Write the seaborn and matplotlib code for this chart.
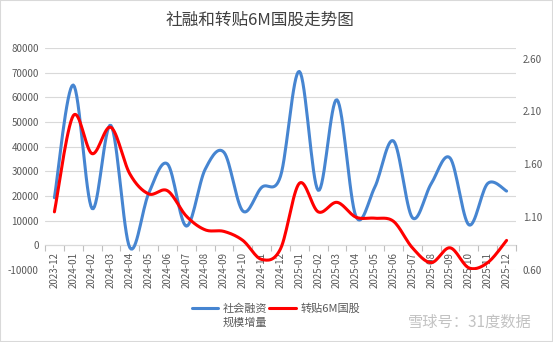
import numpy as np
import pandas as pd
import matplotlib
matplotlib.use("Agg")
import matplotlib.pyplot as plt
from matplotlib.patches import Rectangle
from matplotlib.ticker import FixedLocator, NullFormatter
import seaborn as sns

# ---- data ----
months = ["2023-12", "2024-01", "2024-02", "2024-03", "2024-04", "2024-05", "2024-06",
          "2024-07", "2024-08", "2024-09", "2024-10", "2024-11", "2024-12",
          "2025-01", "2025-02", "2025-03", "2025-04", "2025-05", "2025-06",
          "2025-07", "2025-08", "2025-09", "2025-10", "2025-11", "2025-12"]
tsf = [19300, 65000, 14900, 48600, -900, 21000, 33000, 7800, 30800, 37700, 13900,
       23500, 28000, 70500, 22300, 59000, 11800, 23500, 42300, 11200, 25000, 35400,
       8300, 25100, 22000]
rate = [1.15, 2.06, 1.70, 1.95, 1.51, 1.32, 1.35, 1.11, 0.98, 0.965, 0.88, 0.70,
        0.80, 1.42, 1.15, 1.24, 1.10, 1.09, 1.06, 0.81, 0.67, 0.81, 0.62, 0.67, 0.88]
left_ticks = [-10000, 0, 10000, 20000, 30000, 40000, 50000, 60000, 70000, 80000]
right_ticks = [0.60, 1.10, 1.60, 2.10, 2.60]
series_names = ["社会融资", "转贴6M国股"]
series_name_line2 = "规模增量"
title = "社融和转贴6M国股走势图"


def smooth(vals, n=16):
    """Excel-like Bezier (Catmull-Rom) smoothing of a category series."""
    v = np.asarray(vals, dtype=float)
    x = np.arange(len(v), dtype=float)
    xs, ys = [], []
    for i in range(len(v) - 1):
        i0, i3 = max(i - 1, 0), min(i + 2, len(v) - 1)
        p0x, p1x, p2x, p3x = x[i0], x[i], x[i + 1], x[i3]
        p0y, p1y, p2y, p3y = v[i0], v[i], v[i + 1], v[i3]
        c1x, c1y = p1x + (p2x - p0x) / 6, p1y + (p2y - p0y) / 6
        c2x, c2y = p2x - (p3x - p1x) / 6, p2y - (p3y - p1y) / 6
        t = np.linspace(0, 1, n, endpoint=(i == len(v) - 2))
        b0, b1, b2, b3 = (1 - t) ** 3, 3 * (1 - t) ** 2 * t, 3 * (1 - t) * t ** 2, t ** 3
        xs.append(b0 * p1x + b1 * c1x + b2 * c2x + b3 * p2x)
        ys.append(b0 * p1y + b1 * c1y + b2 * c2y + b3 * p2y)
    return np.concatenate(xs), np.concatenate(ys)


sns.set_theme(style="white")
plt.rcParams["font.family"] = ["Noto Sans CJK SC", "DejaVu Sans"]

W, H = 553, 342
fig = plt.figure(figsize=(W / 100, H / 100), dpi=100)
ax = fig.add_axes([45 / W, 1 - 270 / H, (516 - 45) / W, (270 - 48) / H])
ax2 = ax.twinx()

blue = "#4685D1"
red = "#FF0000"

bx, by = smooth(tsf)
rx, ry = smooth(rate)
sns.lineplot(x=bx, y=by, ax=ax, color=blue, linewidth=2.2, sort=False, estimator=None)
sns.lineplot(x=rx, y=ry, ax=ax2, color=red, linewidth=2.2, sort=False, estimator=None)

n = len(months)
ax.set_xlim(-0.5, n - 0.5)
ax.set_ylim(-10000, 80000)
ax2.set_ylim(0.60, 2.70)

# left axis
ax.set_yticks(left_ticks)
ax.set_yticklabels([str(t) for t in left_ticks])
ax.yaxis.grid(True, color="#d9d9d9", linewidth=0.8)
ax.set_axisbelow(True)
ax.tick_params(axis="y", length=0, pad=4.5, labelsize=7, labelcolor="#595959")

# right axis
ax2.set_yticks(right_ticks)
ax2.set_yticklabels([f"{t:.2f}" for t in right_ticks])
ax2.tick_params(axis="y", length=0, pad=5, labelsize=7, labelcolor="#595959")
ax2.grid(False)

for a in (ax, ax2):
    for s in a.spines.values():
        s.set_visible(False)

# category axis crossing at zero
ax.set_xticks([])
sec = ax.secondary_xaxis(1 / 9)
sec.set_xticks(np.arange(n))
sec.set_xticklabels(months, rotation=90)
sec.xaxis.set_minor_locator(FixedLocator(np.arange(n + 1) - 0.5))
sec.xaxis.set_minor_formatter(NullFormatter())
sec.tick_params(axis="x", which="major", length=0, pad=5, labelsize=7, labelcolor="#595959")
sec.tick_params(axis="x", which="minor", length=4, width=0.8, color="#bfbfbf", direction="out")
for k, s in sec.spines.items():
    s.set_visible(k == "bottom")
sec.spines["bottom"].set_color("#bfbfbf")
sec.spines["bottom"].set_linewidth(0.8)

# title
fig.text(260 / W, 1 - 20.5 / H, title, ha="center", va="center", fontsize=12, color="#404040")

# legend
l1 = ax.get_lines()[0]
l2 = ax2.get_lines()[0]
leg = fig.legend(handles=[l1, l2], labels=series_names, loc="center",
                 bbox_to_anchor=(276 / W, 1 - 309 / H), ncol=2, frameon=False,
                 fontsize=8, handlelength=2.4, handletextpad=0.4, columnspacing=0.2,
                 labelcolor="#595959")
fig.canvas.draw()
bb = leg.get_texts()[0].get_window_extent(fig.canvas.get_renderer())
fig.text(bb.x0 / W, (bb.y0 - 3) / H, series_name_line2, ha="left", va="top",
         fontsize=8, color="#595959")

# watermark
fig.text(470 / W, 1 - 322 / H, "雪球号：31度数据", ha="center", va="center",
         fontsize=11, color="#9a9a9a", alpha=0.6)

# figure border
fig.patches.append(Rectangle((0, 0), 1, 1, transform=fig.transFigure, fill=False,
                             edgecolor="#d9d9d9", linewidth=1.5))

fig.savefig("out.png", dpi=100)
